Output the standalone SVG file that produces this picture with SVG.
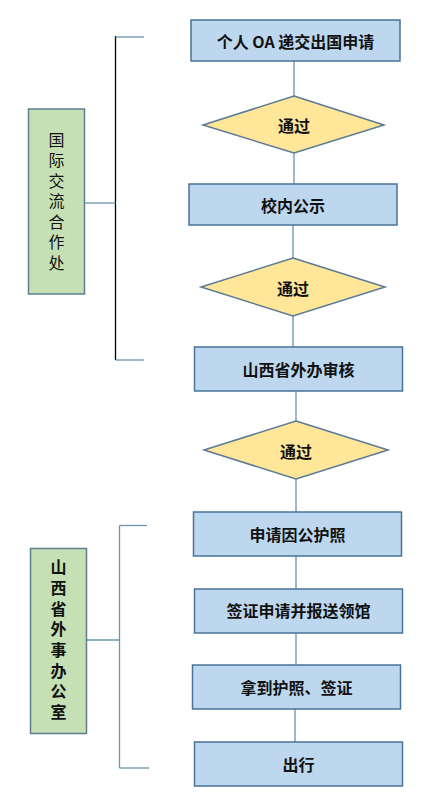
<svg xmlns="http://www.w3.org/2000/svg" width="439" height="806" viewBox="0 0 439 806">
<style>
.box{fill:#BDD7EE;stroke:#4A7396;stroke-width:1.5}
.dia{fill:#FFE699;stroke:#5A7A96;stroke-width:1.5}
.grp{fill:#C5E0B4;stroke:#5F7F8F;stroke-width:1.5}
.t{font-family:"Noto Sans CJK SC","Liberation Sans",sans-serif;font-size:16px;font-weight:bold;fill:#111;text-anchor:middle;dominant-baseline:central}
.v{font-family:"Noto Sans CJK SC",sans-serif;font-size:16px;fill:#111;text-anchor:middle;writing-mode:vertical-rl}
.c{stroke:#6A93AD;stroke-width:1.3;fill:none}
.k{stroke:#000;stroke-width:1.3;fill:none}
</style>
<rect width="439" height="806" fill="#fff"/>
<g id="connectors">
<line class="c" x1="294" y1="61" x2="294" y2="96"/>
<line class="c" x1="294" y1="153" x2="294" y2="184"/>
<line class="c" x1="293" y1="225" x2="293" y2="258"/>
<line class="c" x1="293" y1="316" x2="293" y2="347"/>
<line class="c" x1="296" y1="391" x2="296" y2="421"/>
<line class="c" x1="296" y1="479" x2="296" y2="512"/>
<line class="c" x1="296" y1="556" x2="296" y2="589"/>
<line class="c" x1="296" y1="633" x2="296" y2="665"/>
<line class="c" x1="295" y1="709" x2="295" y2="742"/>
<line class="k" x1="115.5" y1="36" x2="115.5" y2="360"/>
<line class="c" x1="115.5" y1="37" x2="144" y2="37"/>
<line class="c" x1="115.5" y1="360" x2="144" y2="360"/>
<line class="c" x1="85" y1="203" x2="115.5" y2="203"/>
<line class="c" x1="119.5" y1="525.5" x2="119.5" y2="768"/>
<line class="c" x1="119.5" y1="525.5" x2="147" y2="525.5"/>
<line class="c" x1="119.5" y1="768" x2="149" y2="768"/>
<line class="c" x1="87" y1="640" x2="119.5" y2="640"/>
</g>
<g id="n1"><rect class="box" x="191" y="20" width="209" height="41"/><text class="t" x="295.5" y="41">个人 OA 递交出国申请</text></g>
<g id="d1"><polygon class="dia" points="294,96 384,125 294,153 203,125"/><text class="t" x="294" y="125">通过</text></g>
<g id="n2"><rect class="box" x="189" y="184" width="208" height="41"/><text class="t" x="293" y="205">校内公示</text></g>
<g id="d2"><polygon class="dia" points="293,258 385,287 293,316 201,287"/><text class="t" x="293" y="288">通过</text></g>
<g id="n3"><rect class="box" x="194.5" y="347" width="208" height="44"/><text class="t" x="298.5" y="369">山西省外办审核</text></g>
<g id="d3"><polygon class="dia" points="296,421 388,450 296,479 204,450"/><text class="t" x="296" y="451">通过</text></g>
<g id="n4"><rect class="box" x="193.5" y="512" width="208" height="44"/><text class="t" x="297.5" y="534">申请因公护照</text></g>
<g id="n5"><rect class="box" x="194.5" y="589" width="208" height="44"/><text class="t" x="298.5" y="610">签证申请并报送领馆</text></g>
<g id="n6"><rect class="box" x="192.5" y="665" width="208" height="44"/><text class="t" x="296.5" y="687">拿到护照、签证</text></g>
<g id="n7"><rect class="box" x="194.5" y="742" width="208" height="44"/><text class="t" x="298.5" y="764">出行</text></g>
<g id="g1"><rect class="grp" x="28.5" y="109" width="56" height="185"/>
<text class="v" x="56.5" y="203.5" letter-spacing="4.5">国际交流合作处</text></g>
<g id="g2"><rect class="grp" x="30.5" y="548.5" width="56" height="185"/>
<text class="v" x="58.5" y="642" letter-spacing="4.7" font-weight="bold">山西省外事办公室</text></g>
</svg>
